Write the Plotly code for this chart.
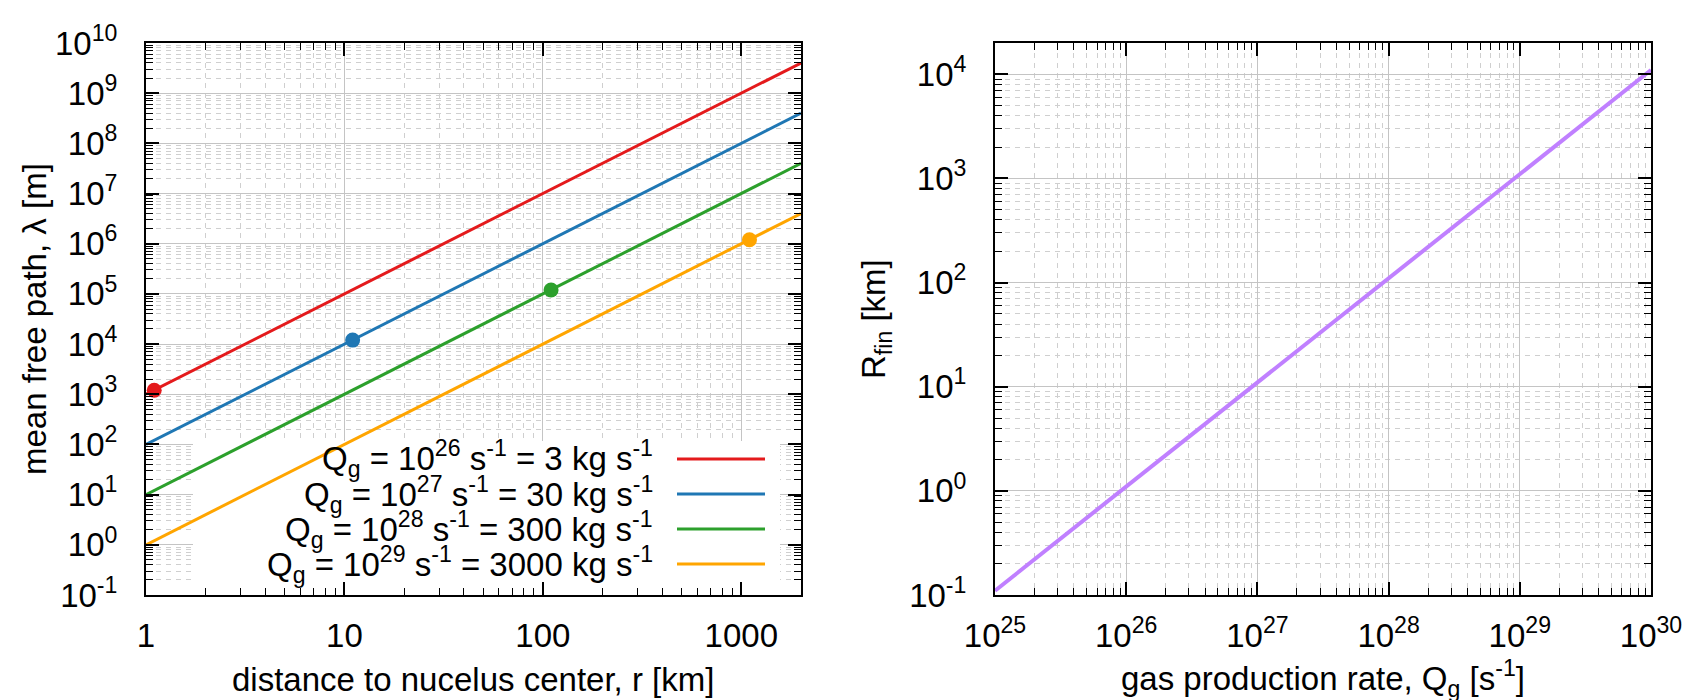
import plotly.graph_objects as go

# ---------------- data ----------------
# left panel: mean free path vs distance (straight lines in log-log, endpoints)
r_km = [1, 2000]
lam_q26 = [1e3, 4e9]
lam_q27 = [1e2, 4e8]
lam_q28 = [1e1, 4e7]
lam_q29 = [1e0, 4e6]
# marked points (R_fin, lambda at R_fin)
rfin_points_km = [1.1, 11, 110, 1100]
lam_at_rfin = [1.2e3, 1.2e4, 1.2e5, 1.2e6]
q_exponents = [26, 27, 28, 29]
kg_rates = ["3", "30", "300", "3000"]
colors = ["#e41a1c", "#1f77b4", "#2ca02c", "#ffa500"]

# right panel: R_fin vs gas production rate
q_rate = [1e25, 1e30]
r_fin_km = [0.11, 1.1e4]

left_xticks = [1, 10, 100, 1000]
left_xticktext = ["1", "10", "100", "1000"]
left_yexp = list(range(-1, 11))
right_xexp = list(range(25, 31))
right_yexp = list(range(-1, 5))

# ---------------- figure ----------------
W, H = 1700, 700
FONT = "Liberation Sans"
FS = 33

# plot-area geometry (pixels)
L_X0, L_X1 = 138, 793
R_X0, R_X1 = 987, 1643
Y_TOP, Y_BOT = 35, 587
LX_RANGE = [0, 3.30103]
LY_RANGE = [-1, 10]


def px(x):
    return x / W


def py(y):
    return 1 - y / H


def left_x_at(p):
    return 10 ** (LX_RANGE[0] + (p - L_X0) / (L_X1 - L_X0) * (LX_RANGE[1] - LX_RANGE[0]))


def left_y_at(p):
    return 10 ** (LY_RANGE[0] + (Y_BOT - p) / (Y_BOT - Y_TOP) * (LY_RANGE[1] - LY_RANGE[0]))


fig = go.Figure()

# opaque key background (covers the grid, lies under the curves)
kx0, kx1 = left_x_at(185), left_x_at(772)
ky0, ky1 = left_y_at(Y_BOT), left_y_at(433)
fig.add_trace(go.Scatter(x=[kx0, kx1, kx1, kx0, kx0], y=[ky0, ky0, ky1, ky1, ky0],
                         mode="lines", fill="toself", fillcolor="white",
                         line=dict(width=0, color="white"), hoverinfo="skip",
                         xaxis="x", yaxis="y", showlegend=False))

series = [lam_q26, lam_q27, lam_q28, lam_q29]
for i, lam in enumerate(series):
    fig.add_trace(go.Scatter(x=r_km, y=lam, mode="lines",
                             line=dict(color=colors[i], width=3),
                             xaxis="x", yaxis="y", showlegend=False))
for i in range(4):
    fig.add_trace(go.Scatter(x=[rfin_points_km[i]], y=[lam_at_rfin[i]], mode="markers",
                             marker=dict(color=colors[i], size=15),
                             xaxis="x", yaxis="y", showlegend=False, cliponaxis=False))

fig.add_trace(go.Scatter(x=q_rate, y=r_fin_km, mode="lines",
                         line=dict(color="#c080ff", width=4),
                         xaxis="x2", yaxis="y2", showlegend=False))


def minor_vals(lo, hi):
    vals = []
    for k in range(lo, hi + 1):
        for m in range(2, 10):
            vals.append(m * 10.0 ** k)
    return vals


def sup10(e):
    return "10<sup>%d</sup>" % e


common = dict(
    type="log", showline=True, linecolor="black", linewidth=2, mirror="allticks",
    ticks="inside", ticklen=13, tickwidth=1.5, tickcolor="black",
    showgrid=True, gridcolor="#c4c4c4", gridwidth=1,
    zeroline=False, tickfont=dict(family=FONT, size=FS, color="black"),
    tickmode="array", automargin=False,
)
minor_common = dict(ticks="inside", ticklen=7, tickwidth=1.2, tickcolor="black",
                    showgrid=True, gridcolor="#cfcfcf", gridwidth=1, griddash="5px,5px",
                    tickmode="array")

dom_y = [py(Y_BOT), py(Y_TOP)]

fig.update_layout(
    width=W, height=H, autosize=False,
    margin=dict(l=0, r=0, t=0, b=0, pad=0, autoexpand=False),
    paper_bgcolor="white", plot_bgcolor="white",
    font=dict(family=FONT, size=FS, color="black"),
    xaxis=dict(**common, domain=[px(L_X0), px(L_X1)], range=LX_RANGE,
               tickvals=left_xticks, ticktext=left_xticktext,
               minor=dict(**minor_common, tickvals=minor_vals(0, 3)),
               anchor="y", ticklabelstandoff=10),
    yaxis=dict(**common, domain=dom_y, range=LY_RANGE,
               tickvals=[10.0 ** e for e in left_yexp], ticktext=[sup10(e) for e in left_yexp],
               minor=dict(**minor_common, tickvals=minor_vals(-1, 9)),
               anchor="x", ticklabelstandoff=20),
    xaxis2=dict(**common, domain=[px(R_X0), px(R_X1)], range=[25, 30],
                tickvals=[10.0 ** e for e in right_xexp], ticktext=[sup10(e) for e in right_xexp],
                minor=dict(**minor_common, tickvals=minor_vals(25, 29)),
                anchor="y2", ticklabelstandoff=10),
    yaxis2=dict(**common, domain=dom_y, range=[-1, 4.30103],
                tickvals=[10.0 ** e for e in right_yexp], ticktext=[sup10(e) for e in right_yexp],
                minor=dict(**minor_common, tickvals=minor_vals(-1, 4)),
                anchor="x2", ticklabelstandoff=20),
)

annotations = [
    dict(text="distance to nucelus center, r [km]", x=px(465.5), y=py(671),
         xref="paper", yref="paper", showarrow=False, xanchor="center", yanchor="middle"),
    dict(text="gas production rate, Q<sub>g</sub> [s<sup>-1</sup>]", x=px(1315), y=py(670),
         xref="paper", yref="paper", showarrow=False, xanchor="center", yanchor="middle"),
    dict(text="mean free path, λ [m]", x=px(26), y=py(311), textangle=-90,
         xref="paper", yref="paper", showarrow=False, xanchor="center", yanchor="middle"),
    dict(text="R<sub>fin</sub> [km]", x=px(868), y=py(311), textangle=-90,
         xref="paper", yref="paper", showarrow=False, xanchor="center", yanchor="middle"),
]

shapes = []
row_y = [451, 486, 521, 556]
for i in range(4):
    annotations.append(dict(
        text="Q<sub>g</sub> = 10<sup>%d</sup> s<sup>-1</sup> = %s kg s<sup>-1</sup>" % (q_exponents[i], kg_rates[i]),
        x=px(647), y=py(row_y[i]), xref="paper", yref="paper", showarrow=False,
        xanchor="right", yanchor="middle"))
    shapes.append(dict(type="line", xref="paper", yref="paper",
                       x0=px(669), x1=px(757), y0=py(row_y[i]), y1=py(row_y[i]),
                       line=dict(color=colors[i], width=3), layer="above"))

fig.update_layout(annotations=annotations, shapes=shapes)

fig.write_html("out.html")
